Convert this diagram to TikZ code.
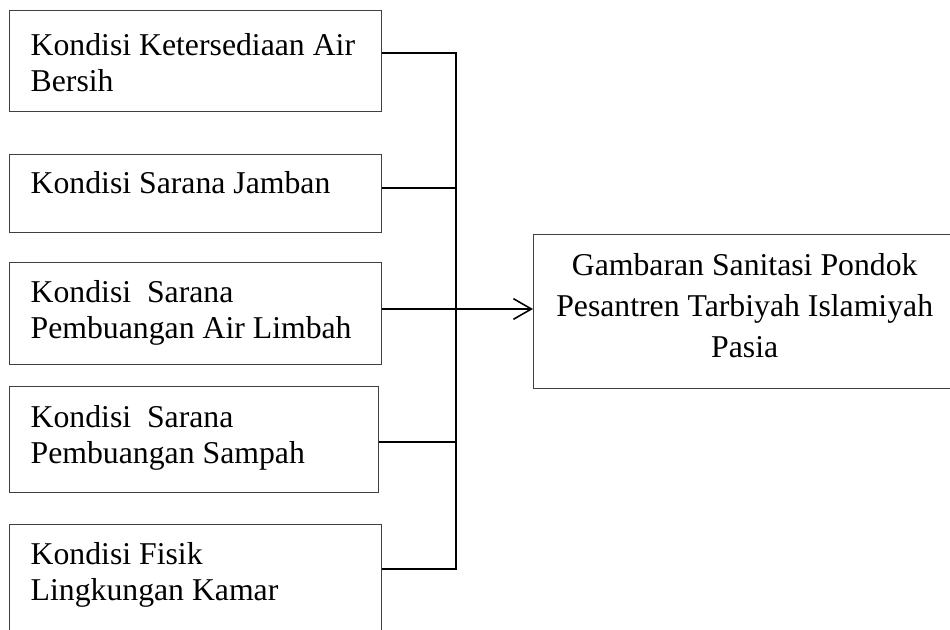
\documentclass[tikz,border=0pt]{standalone}
\usepackage{fontspec}
\setmainfont{Liberation Serif}
\usetikzlibrary{arrows.meta}

\begin{document}
\begin{tikzpicture}[x=0.378pt, y=-0.378pt]
\tikzstyle{factor}=[draw=black!75, line width=0.5pt, anchor=north west, inner xsep=7.94pt, inner ysep=0pt, text width=124.74pt, align=flush left, font=\fontsize{12pt}{13.6pt}\selectfont]
\tikzstyle{result}=[draw=black!75, line width=0.5pt, anchor=north west, inner xsep=4.16pt, inner ysep=0pt, text width=151.2pt, align=flush center, font=\fontsize{12pt}{15.5pt}\selectfont]
\tikzstyle{bus}=[line width=0.9pt]
\tikzstyle{arrow}=[-{Straight Barb[length=6.8pt,width=7.8pt]}, line width=0.6pt]

\useasboundingbox (0,0) rectangle (950,630);
\clip (0,0) rectangle (950,630);

\node[factor, text height=17.01pt, text depth=21.17pt] (air) at (9,10) {Kondisi Ketersediaan Air\\Bersih};
\node[factor, text height=14.74pt, text depth=14.74pt] (jamban) at (9,154) {Kondisi Sarana Jamban};
\node[factor, text height=15.12pt, text depth=23.44pt] (limbah) at (9,262) {Kondisi\ \ Sarana\\Pembuangan Air Limbah};
\node[factor, text width=123.61pt, text height=15.5pt, text depth=24.57pt] (sampah) at (9,386) {Kondisi\ \ Sarana\\Pembuangan Sampah};
\node[factor, text height=15.12pt, text depth=34pt] (kamar) at (9,524) {Kondisi Fisik\\Lingkungan Kamar};

\node[result, text height=15.5pt, text depth=42.71pt] (goal) at (533,234) {Gambaran Sanitasi Pondok\\Pesantren Tarbiyah Islamiyah\\Pasia};

\coordinate (j1) at (456,53);
\coordinate (j2) at (456,188);
\coordinate (j3) at (456,309);
\coordinate (j4) at (456,442);
\coordinate (j5) at (456,569);

\draw[bus] (air.east |- j1) -- (j1) -- (j5) -- (kamar.east |- j5);
\draw[bus] (jamban.east |- j2) -- (j2);
\draw[bus] (limbah.east |- j3) -- (j3);
\draw[bus] (sampah.east |- j4) -- (j4);

\draw[arrow] (j3) -- (goal.west |- j3);

\end{tikzpicture}
\end{document}
